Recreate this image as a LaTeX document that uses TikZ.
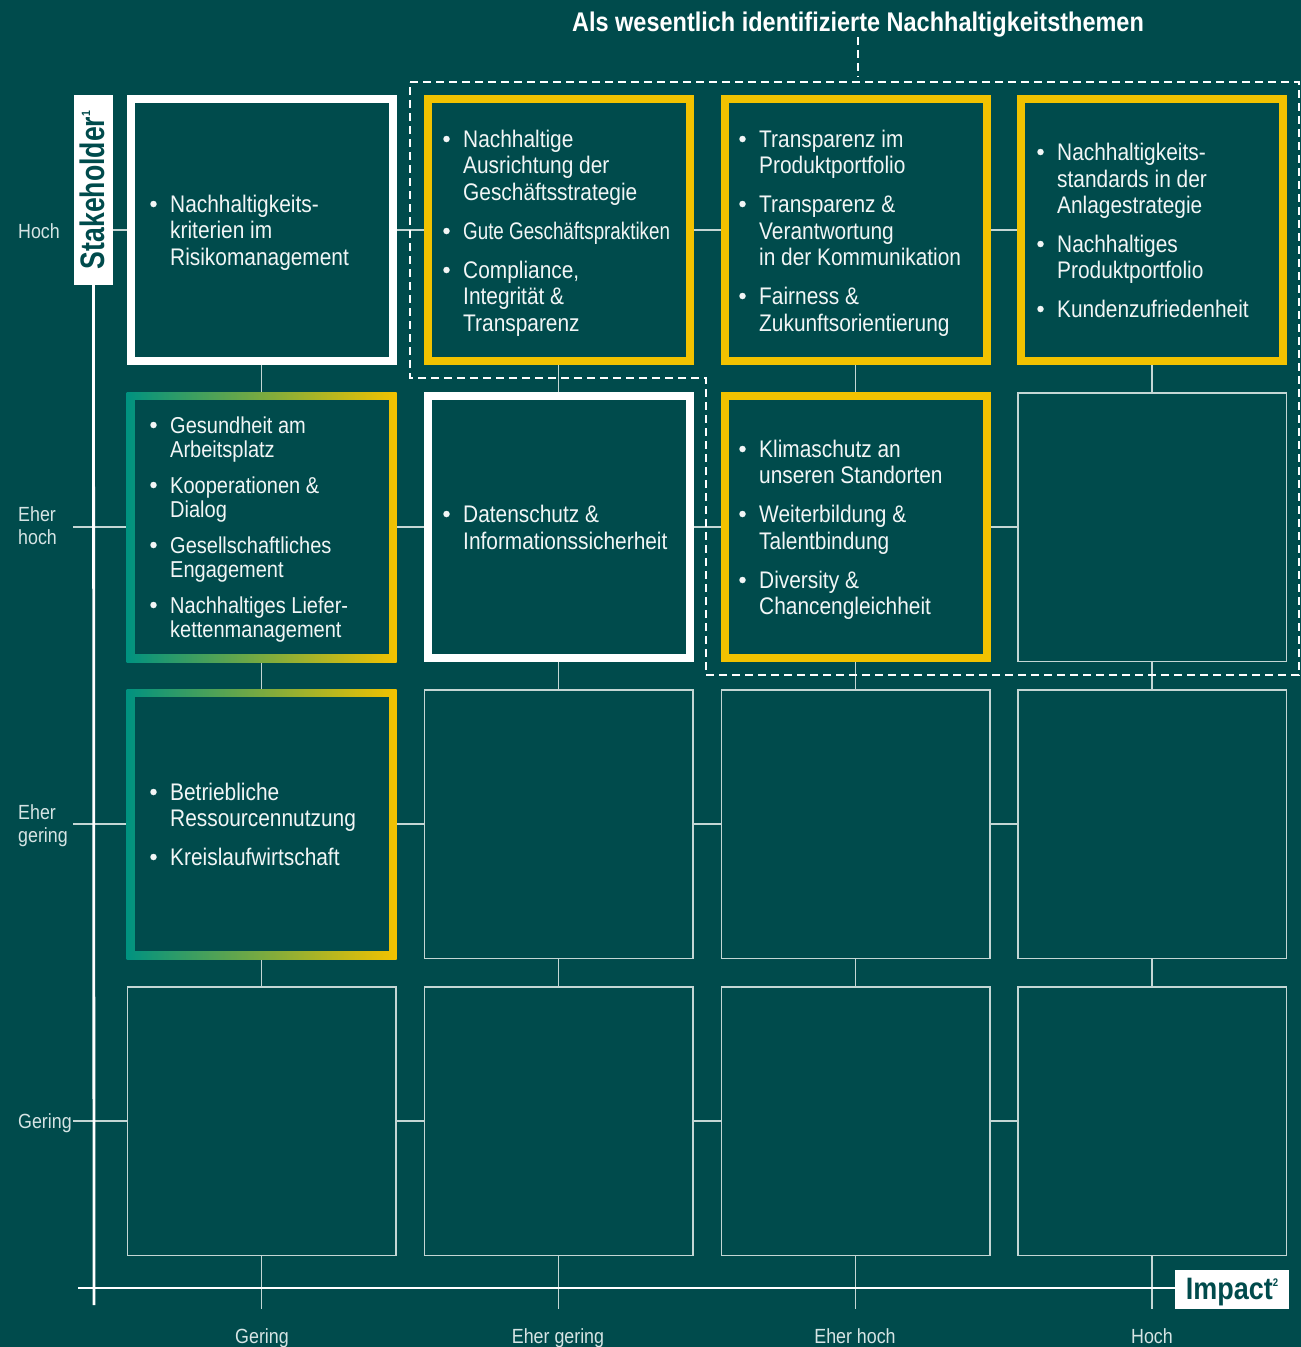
\documentclass[tikz,border=0pt]{standalone}
\usepackage{fontspec}
\usepackage{graphicx}
\setmainfont[FakeStretch=0.87]{Liberation Sans}
\usetikzlibrary{calc}
\definecolor{bgc}{RGB}{0,75,76}
\definecolor{yel}{RGB}{242,194,0}
\definecolor{gradl}{RGB}{0,146,128}
\definecolor{linec}{RGB}{196,214,212}
\definecolor{txtc}{RGB}{242,246,246}
\definecolor{lblc}{RGB}{214,228,228}
\pgfdeclarelayer{bgl}\pgfdeclarelayer{lines}\pgfsetlayers{bgl,lines,main}
\newcounter{ln}
\newcommand\tline[4][txt]{\stepcounter{ln}\node[#1] (l\arabic{ln}) at (#2,#3) {#4};}
\newcommand\bline[4][txt]{\tline[#1]{#2}{#3}{#4}\node[dotm] (d\arabic{ln}) at (#2-16.5,#3-8) {};}
\begin{document}
\begin{tikzpicture}[x=1pt,y=-1pt,
 txt/.style={anchor=base west, inner sep=0pt, text=txtc, font=\fontsize{24}{28}\selectfont},
 txts/.style={txt, font=\fontsize{23}{27}\selectfont},
 dotm/.style={circle, fill=txtc, inner sep=0pt, minimum size=6.5pt},
 thinbox/.style={rectangle, draw=linec, line width=1.5pt, fill=bgc, minimum width=268.5pt, minimum height=268.5pt, inner sep=0pt},
 thickbox/.style={rectangle, draw=#1, line width=8pt, fill=bgc, minimum width=262pt, minimum height=262pt, inner sep=0pt},
 gradbox/.style={rectangle, left color=gradl, right color=yel, draw=none, minimum width=270pt, minimum height=270pt, inner sep=0pt},
 gradin/.style={rectangle, fill=bgc, minimum width=254pt, minimum height=254pt, inner sep=0pt},
 conn/.style={draw=linec, line width=1.4pt},
 axisl/.style={draw=white, line width=2.8pt},
 dashl/.style={draw=white, line width=2pt, dash pattern=on 8pt off 5pt},
 lbl/.style={anchor=base west, inner sep=0pt, text=lblc, font=\fontsize{20.5}{23}\selectfont},
 blbl/.style={lbl, anchor=base}
]
\begin{pgfonlayer}{bgl}
\fill[bgc] (0,0) rectangle (1301,1347);
\end{pgfonlayer}
\useasboundingbox (0,0) rectangle (1301,1347);

% title
\node[anchor=base, inner sep=0pt, text=white, font=\fontsize{27}{30}\selectfont\bfseries] (ttl) at (858,31) {Als wesentlich identifizierte Nachhaltigkeitsthemen};
\coordinate (tle) at (857,76);

% boxes
\node[thickbox=white] (b11) at (261.5,230) {};
\node[thickbox=yel] (b12) at (558.5,230) {};
\node[thickbox=yel] (b13) at (855.5,230) {};
\node[thickbox=yel] (b14) at (1152,230) {};
\node[gradbox] (b21) at (261.5,527) {};
\node[gradin] (b21i) at (b21.center) {};
\node[thickbox=white] (b22) at (558.5,527) {};
\node[thickbox=yel] (b23) at (855.5,527) {};
\node[thinbox] (b24) at (1152,527) {};
\node[gradbox] (b31) at (261.5,824) {};
\node[gradin] (b31i) at (b31.center) {};
\node[thinbox] (b32) at (558.5,824) {};
\node[thinbox] (b33) at (855.5,824) {};
\node[thinbox] (b34) at (1152,824) {};
\node[thinbox] (b41) at (261.5,1121) {};
\node[thinbox] (b42) at (558.5,1121) {};
\node[thinbox] (b43) at (855.5,1121) {};
\node[thinbox] (b44) at (1152,1121) {};

% axis labels
\node[fill=white, minimum width=39pt, minimum height=190pt, inner sep=0pt] (stk) at (93.5,189.5) {};
\node[rotate=90, anchor=base, inner sep=0pt, text=bgc, font=\fontsize{34}{34}\selectfont\bfseries] (stkt) at (104,190) {\scalebox{0.9}[1]{Stakeholder}\raisebox{14pt}{\fontsize{12}{12}\selectfont 1}};
\node[fill=white, minimum width=114pt, minimum height=39pt, inner sep=0pt] (imp) at (1232,1289) {};
\node[anchor=base, inner sep=0pt, text=bgc, font=\fontsize{31}{31}\selectfont\bfseries] (impt) at (1232,1299) {Impact\raisebox{13pt}{\fontsize{11}{11}\selectfont 2}};

\coordinate (tk) at (73,0);
\coordinate (bot) at (0,1309);
\coordinate (yend) at (94,1305);
\coordinate (xst) at (78,1288);

% connectors (behind boxes)
\begin{pgfonlayer}{lines}
\foreach \r in {1,...,4}{
  \foreach \c/\d in {1/2,2/3,3/4}{\draw[conn] (b\r\c) -- (b\r\d);}
}
\foreach \c in {1,...,4}{
  \foreach \r/\s in {1/2,2/3,3/4}{\draw[conn] (b\r\c) -- (b\s\c);}
  \draw[conn] (b4\c) -- (b4\c |- bot);
}
\draw[conn] (stk.east |- b11) -- (b11);
\draw[conn] (tk |- b21) -- (b21);
\draw[conn] (tk |- b31) -- (b31);
\draw[conn] (tk |- b41) -- (b41);
\end{pgfonlayer}

% axes
\draw[axisl] (stk.south) -- (yend);
\draw[axisl] (xst) -- (imp.west |- xst);

% dashed highlight region
\draw[dashl] (410,82) -- (1299,82) -- (1299,675) -- (706,675) -- (706,378) -- (410,378) -- cycle;
\draw[dashl] (ttl.south) -- (ttl.south |- tle);

% left labels
\node[lbl] (yl1) at (18,238) {Hoch};
\node[lbl] (yl2a) at (18,521) {Eher};
\node[lbl] (yl2b) at (18,544) {hoch};
\node[lbl] (yl3a) at (18,819) {Eher};
\node[lbl] (yl3b) at (18,842) {gering};
\node[lbl] (yl4) at (18,1128) {Gering};
% bottom labels
\node[blbl] (xl1) at (262,1343) {Gering};
\node[blbl] (xl2) at (558,1343) {Eher gering};
\node[blbl] (xl3) at (855,1343) {Eher hoch};
\node[blbl] (xl4) at (1152,1343) {Hoch};

% box texts
\bline{170}{212}{Nachhaltigkeits-}
\tline{170}{238}{kriterien im}
\tline{170}{265}{Risikomanagement}

\bline{463}{147}{Nachhaltige}
\tline{463}{173}{Ausrichtung der}
\tline{463}{200}{Geschäftsstrategie}
\bline{463}{239}{\scalebox{0.9}[1]{Gute Geschäftspraktiken}}
\bline{463}{278}{Compliance,}
\tline{463}{304}{Integrität \&}
\tline{463}{331}{Transparenz}

\bline{759}{147}{Transparenz im}
\tline{759}{173}{Produktportfolio}
\bline{759}{212}{Transparenz \&}
\tline{759}{239}{Verantwortung}
\tline{759}{265}{in der Kommunikation}
\bline{759}{304}{Fairness \&}
\tline{759}{331}{Zukunftsorientierung}

\bline{1057}{160}{Nachhaltigkeits-}
\tline{1057}{187}{standards in der}
\tline{1057}{213}{Anlagestrategie}
\bline{1057}{252}{Nachhaltiges}
\tline{1057}{278}{Produktportfolio}
\bline{1057}{317}{Kundenzufriedenheit}

\bline[txts]{170}{433}{Gesundheit am}
\tline[txts]{170}{457}{Arbeitsplatz}
\bline[txts]{170}{493}{Kooperationen \&}
\tline[txts]{170}{517}{Dialog}
\bline[txts]{170}{553}{Gesellschaftliches}
\tline[txts]{170}{577}{Engagement}
\bline[txts]{170}{613}{Nachhaltiges Liefer-}
\tline[txts]{170}{637}{kettenmanagement}

\bline{463}{522}{Datenschutz \&}
\tline{463}{549}{Informationssicherheit}

\bline{759}{457}{Klimaschutz an}
\tline{759}{483}{unseren Standorten}
\bline{759}{522}{Weiterbildung \&}
\tline{759}{549}{Talentbindung}
\bline{759}{588}{Diversity \&}
\tline{759}{614}{Chancengleichheit}

\bline{170}{800}{Betriebliche}
\tline{170}{826}{Ressourcennutzung}
\bline{170}{865}{Kreislaufwirtschaft}
\end{tikzpicture}
\end{document}
